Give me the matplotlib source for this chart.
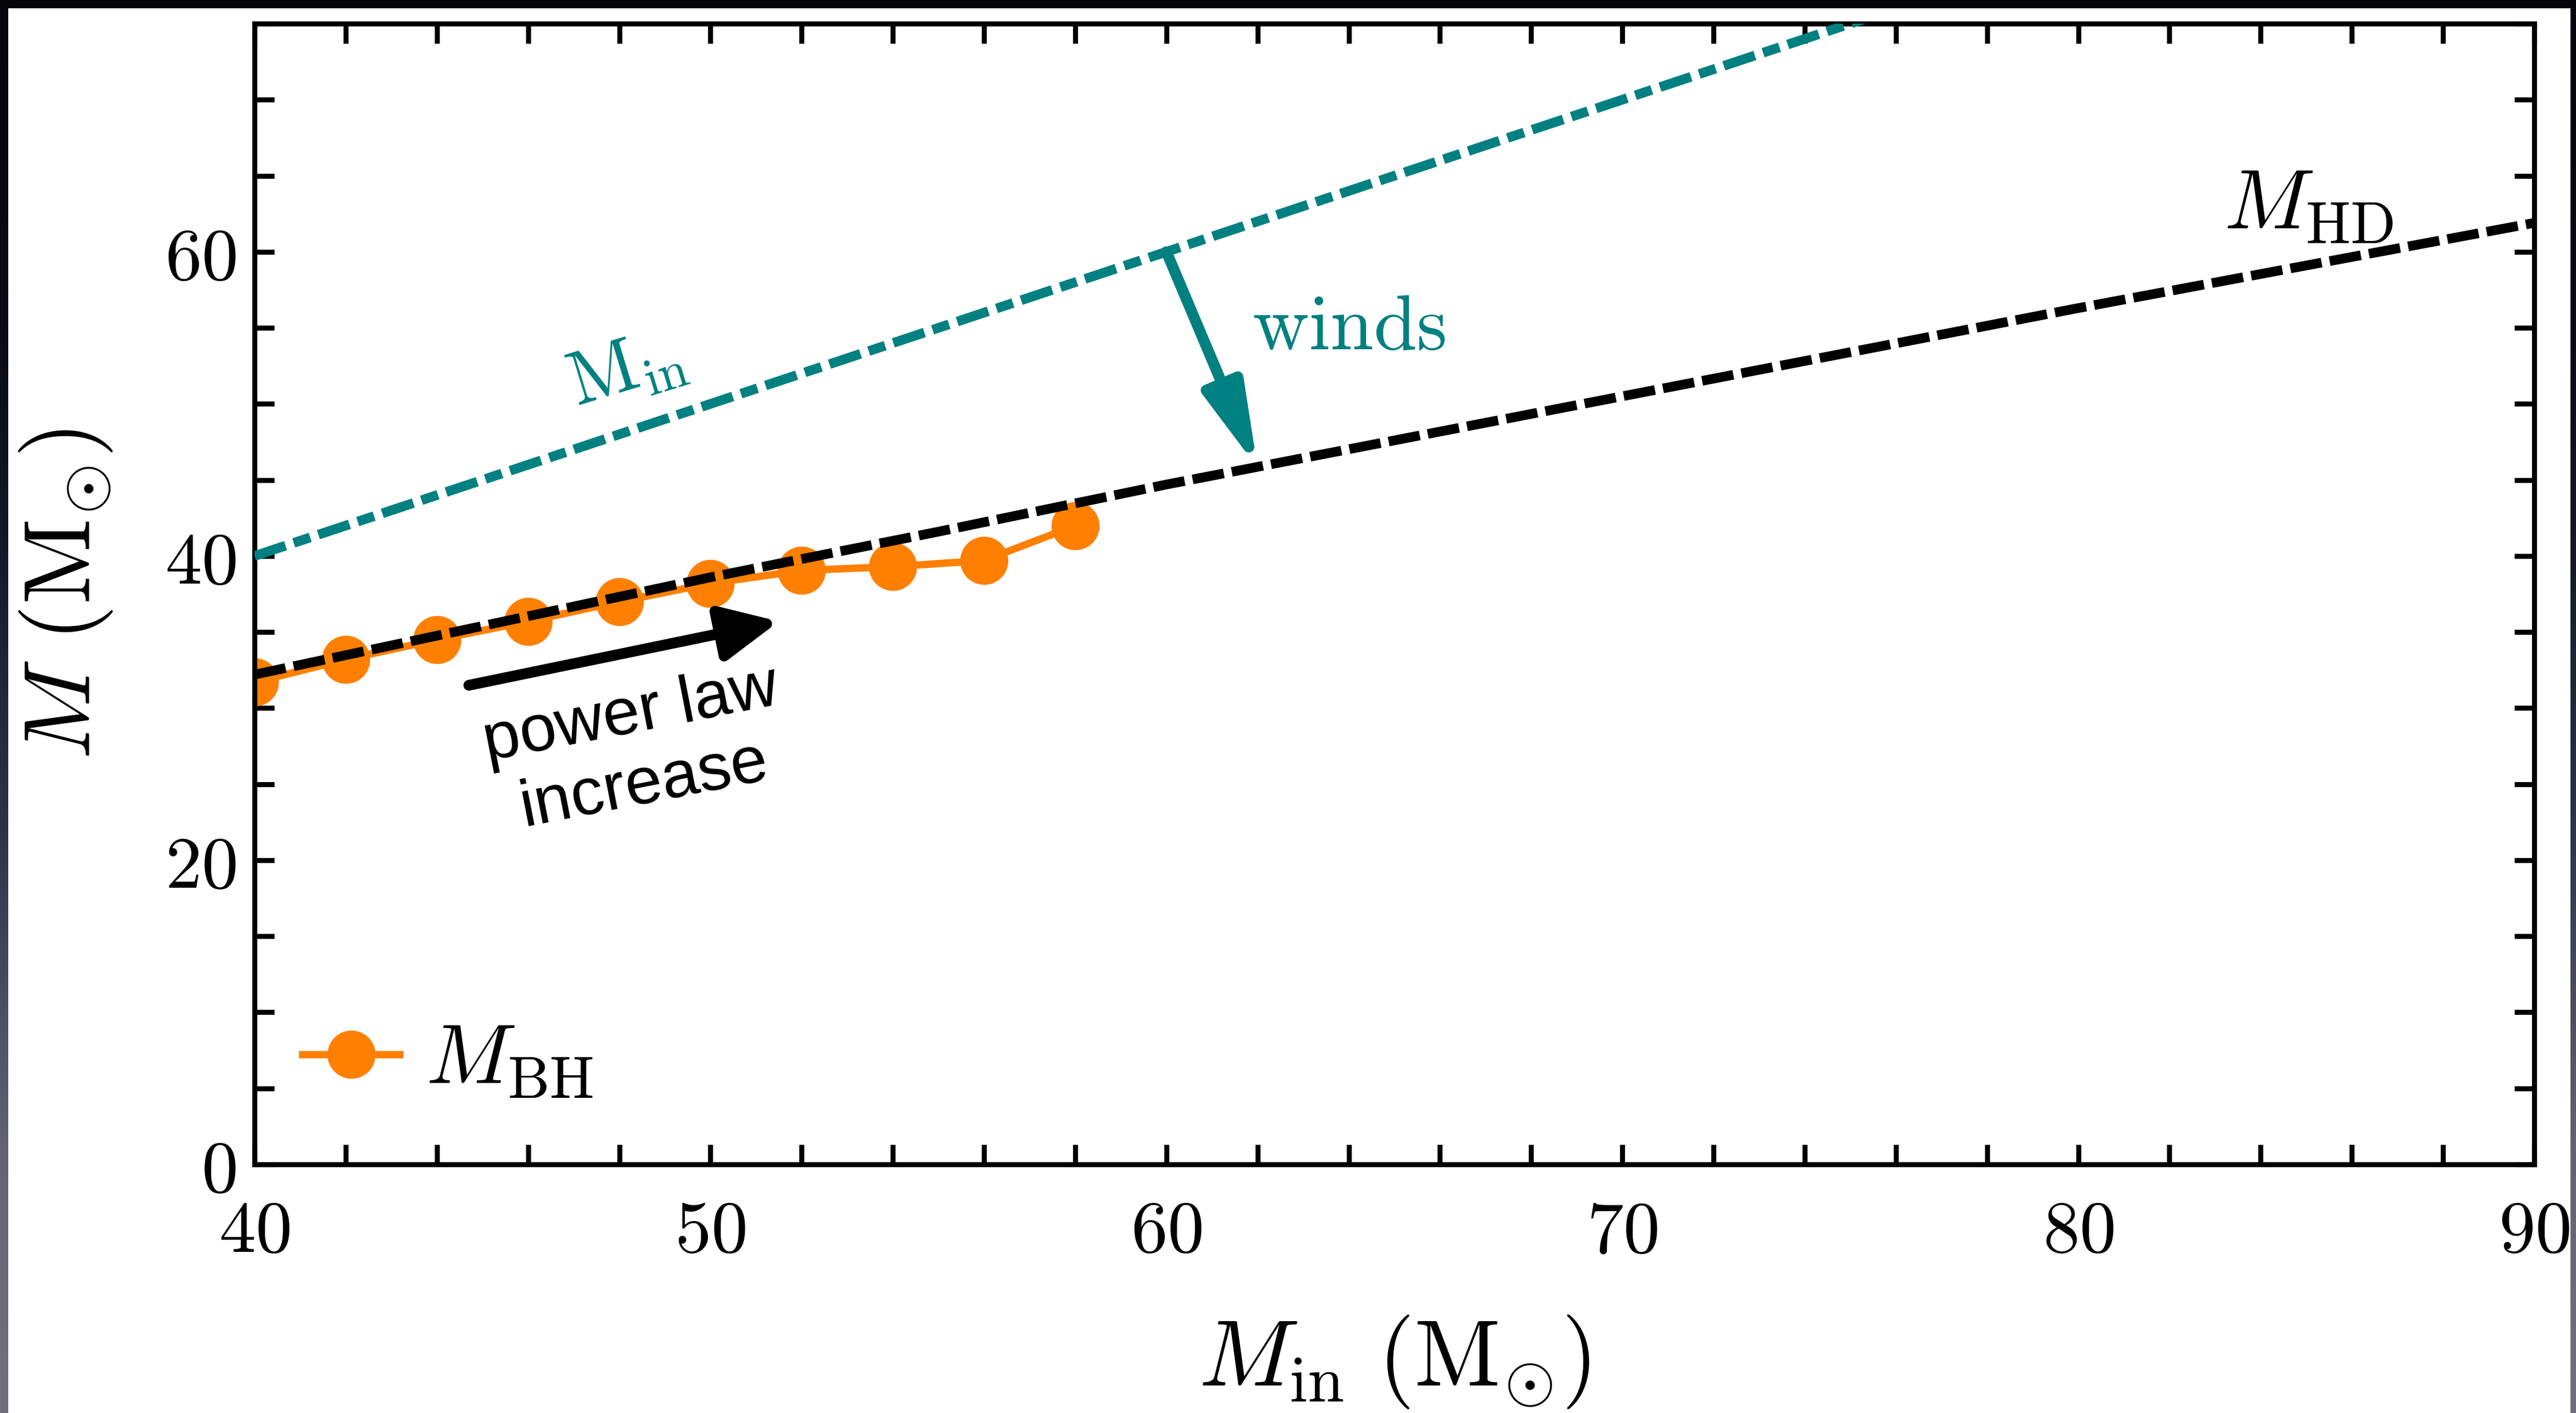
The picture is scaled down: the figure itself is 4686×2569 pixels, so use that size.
import numpy as np
import matplotlib
matplotlib.use('Agg')
import matplotlib.pyplot as plt
from matplotlib.ticker import MultipleLocator
from matplotlib.patches import Rectangle

plt.rcParams['mathtext.fontset'] = 'cm'
plt.rcParams['font.family'] = ['DejaVu Serif']

# values
min_x = [40, 90]
min_y = [40, 90]

hd_x = [40, 45, 50, 55, 60, 65, 70, 75, 80, 85, 90]
hd_y = [32.2, 35.4, 38.6, 41.6, 44.7, 47.6, 50.5, 53.4, 56.3, 59.1, 61.9]

bh_x = [40, 42, 44, 46, 48, 50, 52, 54, 56, 58]
bh_y = [31.7, 33.2, 34.5, 35.7, 37.0, 38.2, 39.05, 39.3, 39.7, 42.0]

x_ticks = [40, 50, 60, 70, 80, 90]
y_ticks = [0, 20, 40, 60]

winds_tail = (60, 60)
winds_head = (62.0, 45.8)
pl_tail = (44.7, 31.5)
pl_head = (51.5, 35.7)

TEAL = '#008080'
ORANGE = '#ff8000'

W, H = 4686, 2569
fig = plt.figure(figsize=(W / 300, H / 300), dpi=300)
fig.patch.set_facecolor('white')

# dark frame of the screenshot
rows = np.arange(H)
keys = [0, 600, 1000, 1500, 2100, H]
cols = np.array([[5, 5, 10], [10, 11, 22], [22, 24, 42], [48, 50, 72],
                 [100, 100, 118], [112, 112, 128]]) / 255.0
grad = np.stack([np.interp(rows, keys, cols[:, k]) for k in range(3)], axis=1)
grad = grad[:, None, :]
for rect in ([0, 0, 15 / W, 1], [1 - 10 / W, 0, 10 / W, 1]):
    s = fig.add_axes(rect)
    s.imshow(grad, aspect='auto', interpolation='bilinear')
    s.axis('off')
fig.patches.append(Rectangle((0, 1 - 13 / H), 1, 13 / H, transform=fig.transFigure,
                             color='#050507', zorder=5))

ax = fig.add_axes([463 / W, 1 - 2117 / H, (4610 - 463) / W, (2117 - 43) / H])

ax.plot(bh_x, bh_y, '-o', color=ORANGE, lw=3.2, ms=20, label=r'$M_\mathrm{BH}$', zorder=2)
hd, = ax.plot(hd_x, hd_y, '--', color='black', lw=4.2, zorder=3)
hd.set_dashes((3.3, 0.85))
mi, = ax.plot(min_x, min_y, '-.', color=TEAL, lw=4.2, zorder=3)
mi.set_dashes((3.4, 0.9, 1.8, 0.9))

ax.annotate('', xy=winds_head, xytext=winds_tail,
            arrowprops=dict(arrowstyle='-|>,head_length=30,head_width=7.5',
                            color=TEAL, lw=4.8, shrinkA=0, shrinkB=0,
                            mutation_scale=1), zorder=4)
ax.annotate('', xy=pl_head, xytext=pl_tail,
            arrowprops=dict(arrowstyle='-|>,head_length=21,head_width=10',
                            color='black', lw=4.7, shrinkA=0, shrinkB=0,
                            mutation_scale=1), zorder=4)

ax.text(64.0, 55.0, r'$\mathrm{winds}$', color=TEAL, fontsize=34, ha='center', va='center')
ax.text(48.15, 52.3, r'$\mathrm{M}_\mathrm{in}$', color=TEAL, fontsize=33,
        ha='center', va='center', rotation=17)
ax.text(85.05, 63.0, r'$M_\mathrm{HD}$', color='black', fontsize=37, ha='center', va='center')
ax.text(48.4, 27.2, 'power law\nincrease', fontsize=29, ha='center', va='center',
        rotation=11, family=['Liberation Sans', 'DejaVu Sans'])

ax.set_xlim(40, 90)
ax.set_ylim(0, 75)
ax.set_xticks(x_ticks, [f'${t}$' for t in x_ticks])
ax.set_yticks(y_ticks, [f'${t}$' for t in y_ticks])
ax.xaxis.set_minor_locator(MultipleLocator(2))
ax.yaxis.set_minor_locator(MultipleLocator(5))
ax.tick_params(which='both', direction='in', top=True, right=True,
               length=8.6, width=2.2, labelsize=32)
ax.tick_params(axis='x', which='both', pad=14)
ax.tick_params(axis='y', which='both', pad=8)
for sp in ax.spines.values():
    sp.set_linewidth(2.2)

ax.set_xlabel(r'$M_\mathrm{in}\ (\mathrm{M}_{\odot})$', fontsize=41, labelpad=20)
ax.set_ylabel(r'$M\ (\mathrm{M}_{\odot})$', fontsize=41, labelpad=22)

ax.legend(loc='center left', bbox_to_anchor=(0.021, 0.091), frameon=False,
          fontsize=37, handlelength=1.15, handletextpad=0.3,
          borderpad=0, borderaxespad=0)

fig.savefig('out.png', dpi=300, facecolor=fig.get_facecolor())
